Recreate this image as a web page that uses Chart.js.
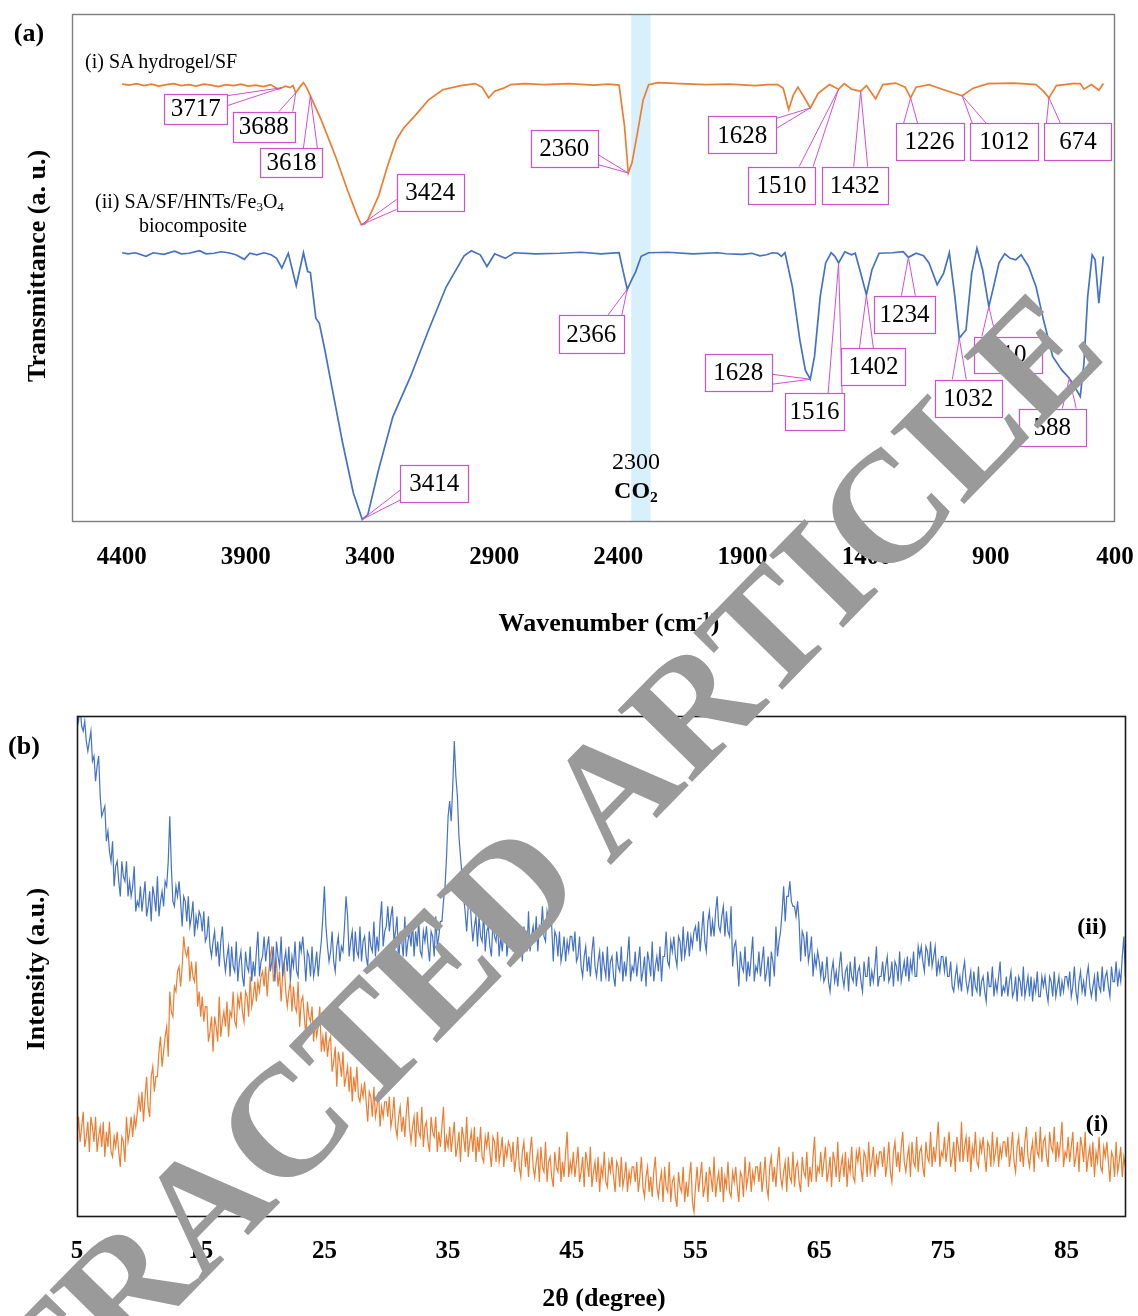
<!DOCTYPE html>
<html>
<head>
<meta charset="utf-8">
<script src="https://cdn.jsdelivr.net/npm/chart.js@4.4.1/dist/chart.umd.min.js"></script>
<style>
  html,body{margin:0;padding:0;background:#fff;}
  body{width:1138px;height:1316px;position:relative;overflow:hidden;font-family:'Liberation Serif','Times New Roman',serif;color:#000;}
  canvas{position:absolute;left:0;}
  .t{position:absolute;white-space:nowrap;line-height:1;}
  .c{transform:translate(-50%,-50%);}
  .l{transform:translateY(-50%);}
  .b{font-weight:bold;}
  .rot{transform:translate(-50%,-50%) rotate(-90deg);}
  sub{font-size:0.65em;vertical-align:-0.25em;line-height:0;}
  sup{font-size:0.65em;vertical-align:0.45em;line-height:0;}
  #wm{position:absolute;left:464px;top:939px;transform:translate(-50%,-50%) rotate(-45.6deg);font-size:158px;font-weight:bold;line-height:1;color:#9a9a9a;white-space:nowrap;pointer-events:none;font-family:'Liberation Serif','Times New Roman',serif;}
</style>
</head>
<body>
<canvas id="ftir" width="1138" height="660" style="top:0;width:1138px;height:660px"></canvas>
<canvas id="xrd" width="1138" height="636" style="top:680px;width:1138px;height:636px"></canvas>

<div class="t c b" style="left:29px;top:33px;font-size:26px">(a)</div>
<div class="t l" style="left:85px;top:61px;font-size:20px">(i) SA hydrogel/SF</div>
<div class="t l" style="left:95px;top:201px;font-size:20px">(ii) SA/SF/HNTs/Fe<sub>3</sub>O<sub>4</sub></div>
<div class="t l" style="left:139px;top:225px;font-size:20px">biocomposite</div>
<div class="t c" style="left:636px;top:461px;font-size:24px">2300</div>
<div class="t c b" style="left:636px;top:490px;font-size:24px">CO<sub>2</sub></div>
<div class="t rot b" style="left:37px;top:266px;font-size:26px">Transmittance (a. u.)</div>
<div class="t c b" style="left:609px;top:623px;font-size:26px">Wavenumber (cm<sup>-1</sup>)</div>

<div class="t c b" style="left:24px;top:746px;font-size:26px">(b)</div>
<div class="t rot b" style="left:36px;top:969px;font-size:26px">Intensity (a.u.)</div>
<div class="t c b" style="left:604px;top:1298px;font-size:26px">2θ (degree)</div>
<div class="t c b" style="left:1092px;top:926px;font-size:24px">(ii)</div>
<div class="t c b" style="left:1097px;top:1123px;font-size:24px">(i)</div>

<div id="wm">RETRACTED ARTICLE</div>

<script>
// ---------------- DATA ----------------
// FTIR (a): [wavenumber cm-1, transmittance a.u.]
const ftirSA_SF = [
 [4398,86.2],[4370,86.0],[4340,86.3],[4310,85.9],[4280,86.2],[4250,85.8],[4220,86.1],[4190,86.3],[4160,85.9],[4130,86.1],
 [4100,85.8],[4070,86.2],[4040,86.0],[4010,85.7],[3980,86.1],[3950,85.9],[3920,86.2],[3890,85.8],[3860,86.0],[3830,85.7],
 [3800,86.1],[3769,85.2],[3755,85.5],[3740,85.8],[3723,85.5],[3710,85.9],[3699,84.5],[3680,85.8],[3668,86.5],[3655,85.5],
 [3640,83.9],[3597,79.2],[3539,72.0],[3489,65.1],[3453,60.5],[3435,58.5],[3420,58.7],[3409,59.5],[3366,64.1],[3330,70.0],
 [3294,75.2],[3265,77.5],[3215,80.2],[3164,83.1],[3107,85.1],[3035,85.9],[2977,86.3],[2949,85.6],[2922,83.5],[2898,84.8],
 [2862,85.4],[2833,86.1],[2776,86.3],[2700,86.1],[2600,86.3],[2500,86.0],[2440,86.2],[2397,86.0],[2375,77.9],[2360,68.7],
 [2345,70.7],[2323,76.6],[2300,83.1],[2278,86.1],[2241,86.5],[2150,86.3],[2050,86.1],[1950,86.2],[1850,85.9],[1800,86.1],
 [1758,86.1],[1736,85.4],[1714,81.2],[1695,84.1],[1677,85.6],[1654,83.8],[1627,81.5],[1595,84.4],[1550,86.1],[1513,85.2],
 [1490,86.3],[1461,85.2],[1424,84.8],[1401,85.9],[1364,83.3],[1335,86.1],[1283,86.4],[1245,85.6],[1223,83.5],[1201,85.6],
 [1149,86.1],[1090,85.1],[1015,83.9],[971,85.4],[911,86.3],[807,86.4],[718,86.1],[688,84.8],[666,83.5],[636,85.9],
 [570,86.3],[540,86.3],[525,85.2],[495,86.1],[465,85.0],[447,86.3]
];
const ftirComposite = [
 [4398,53.0],[4374,52.8],[4345,53.0],[4302,52.3],[4273,53.0],[4230,52.7],[4187,53.3],[4160,52.8],[4129,52.9],[4086,53.4],
 [4060,52.8],[4028,52.9],[4000,53.2],[3971,53.0],[3940,52.6],[3906,51.7],[3884,52.9],[3856,52.6],[3827,53.0],[3798,52.6],
 [3776,51.9],[3755,50.0],[3729,52.9],[3697,46.5],[3668,53.0],[3651,49.3],[3640,49.1],[3618,40.1],[3604,39.1],[3582,33.9],
 [3554,26.7],[3510,15.5],[3467,5.7],[3431,0.5],[3409,1.4],[3366,10.2],[3308,20.7],[3237,28.6],[3164,37.8],[3093,46.3],
 [3021,52.4],[2992,53.4],[2956,52.6],[2929,50.3],[2898,52.8],[2855,51.9],[2819,53.0],[2733,52.8],[2635,52.9],[2550,53.1],
 [2470,52.8],[2397,53.0],[2379,49.0],[2364,45.8],[2345,47.8],[2330,49.3],[2308,52.3],[2278,53.0],[2200,53.1],[2100,52.8],
 [2000,53.0],[1966,52.8],[1900,52.7],[1862,52.9],[1830,52.4],[1803,52.6],[1780,53.0],[1758,52.9],[1743,52.3],[1729,53.0],
 [1699,46.3],[1669,35.8],[1647,29.9],[1627,28.1],[1610,32.6],[1587,44.4],[1565,51.0],[1543,53.0],[1528,52.3],[1513,51.0],
 [1488,53.2],[1461,52.6],[1446,52.9],[1424,49.0],[1401,44.7],[1379,49.6],[1350,52.9],[1297,53.0],[1253,53.2],[1232,52.1],
 [1201,52.9],[1171,52.4],[1149,51.0],[1116,46.7],[1090,49.0],[1067,53.0],[1045,44.4],[1027,36.2],[1000,37.8],[977,49.0],
 [956,53.9],[933,49.6],[908,42.4],[889,46.3],[867,51.0],[844,52.8],[822,51.9],[800,51.6],[778,52.6],[748,50.3],
 [718,46.3],[688,39.8],[651,32.6],[614,29.9],[584,28.3],[562,26.6],[540,24.7],[525,31.3],[510,44.4],[492,52.6],
 [480,51.6],[465,43.1],[447,52.3]
];
const ftirTickValues = [4400,3900,3400,2900,2400,1900,1400,900,400];
const co2Band = [2270, 2348];
// peak labels: [text, series (0 = SA hydrogel/SF, 1 = composite), wavenumber, transmittance]
const ftirPeakLabels = [
 ['3717',0,3755,85.5],['3688',0,3699,84.5],['3618',0,3640,83.9],['3424',0,3435,58.5],['2360',0,2360,68.7],
 ['1628',0,1627,81.5],['1510',0,1513,85.2],['1432',0,1424,84.8],['1226',0,1223,83.5],['1012',0,1015,83.9],['674',0,666,83.5],
 ['3414',1,3431,0.5],['2366',1,2364,45.8],['1628',1,1627,28.1],['1516',1,1513,51.0],['1402',1,1401,44.7],
 ['1234',1,1232,52.1],['1032',1,1027,36.2],['910',1,908,42.4],['588',1,584,28.3]
];

// XRD (b): intensity (a.u.) every 0.125 deg starting at 5 deg (one row = 5 deg)
const xrdStart = 5, xrdStep = 0.125;
const xrdComposite = [
 101,99,102,98,97,99,95,93,95,97,91,92,87,90,92,84,80,81,82,75,77,73,71,75,66,70,71,67,64,71,68,67,71,64,67,64,66,70,61,63,
 62,66,61,64,67,60,62,65,59,66,64,61,68,60,63,65,62,67,66,71,80,70,63,62,66,64,67,63,58,64,63,59,64,58,60,63,56,60,58,61,
 60,57,61,55,56,60,54,52,55,57,52,55,50,55,58,52,49,52,54,48,54,50,49,55,47,51,53,48,46,53,50,49,54,47,51,48,53,57,48,51,
 52,56,51,54,56,49,51,54,47,55,52,50,56,48,51,53,49,54,47,52,50,55,49,48,55,53,56,52,47,53,52,48,54,48,50,53,48,52,55,60,
 66,58,54,51,53,57,51,49,54,56,51,54,53,58,64,60,52,55,57,51,57,53,52,58,51,55,56,52,50,57,54,53,59,52,56,53,59,63,54,57,
 58,62,57,60,62,55,57,60,50,57,55,52,60,52,55,57,54,59,52,57,54,59,53,52,57,55,58,54,51,57,56,52,60,54,56,59,59,63,66,72,
 80,83,79,86,95,88,84,76,72,68,64,61,57,62,65,59,55,58,60,54,60,56,55,61,53,57,58,54,52,59,56,55,59,52,56,53,57,61,52,55,
 54,58,53,56,59,52,54,57,51,58,56,53,61,53,56,58,55,60,53,58,57,62,56,55,61,59,63,58,51,57,56,52,57,51,53,56,51,55,53,56,
 56,53,57,51,52,56,50,48,52,54,49,52,48,53,56,50,48,51,53,47,53,50,48,54,47,51,52,48,46,53,50,49,54,47,51,48,52,56,47,50,
 49,53,48,51,54,47,49,52,46,53,51,48,55,47,50,52,49,54,47,52,52,57,51,50,55,53,56,52,50,56,55,51,58,52,54,57,52,56,54,57,
 58,55,59,53,57,61,55,53,59,61,56,59,56,61,64,58,57,60,62,56,61,57,56,62,50,54,55,51,46,53,50,49,54,47,51,48,52,56,47,50,
 49,53,48,51,54,47,49,52,46,53,51,48,58,52,55,57,61,66,59,64,64,67,63,62,62,60,63,59,51,57,56,52,57,51,53,56,48,52,50,53,
 51,48,51,47,48,52,47,45,49,51,47,49,46,50,53,48,46,49,50,45,51,48,47,52,46,49,50,47,45,51,48,48,52,46,49,47,50,54,46,48,
 48,51,47,50,52,47,48,51,46,51,50,47,53,47,49,51,48,52,47,51,49,53,48,48,54,52,54,51,49,54,53,50,55,50,52,54,48,51,49,52,
 52,49,52,48,48,51,46,45,48,50,46,48,45,49,51,47,45,47,49,44,49,46,45,50,44,47,48,45,43,49,46,46,50,44,47,45,48,51,44,46,
 45,48,44,47,49,44,45,48,43,48,47,44,50,44,46,48,44,48,43,47,45,49,44,44,48,46,48,45,43,48,47,44,49,44,46,48,44,47,45,48,
 48,46,49,44,46,50,45,43,47,49,45,47,44,48,50,46,44,46,48,43,49,46,45,50,45,48,49,46,44,50,47,47,51,46,49,47,52,56,48,51
];
const xrdSA_SF = [
 16,20,15,18,21,14,16,19,13,20,18,15,20,13,16,18,14,19,12,17,14,19,13,12,16,14,17,13,10,16,15,11,20,15,17,20,16,20,18,21,
 24,21,25,19,24,28,22,20,28,30,25,28,28,33,36,30,33,36,38,32,45,41,40,46,45,49,50,46,50,56,53,52,54,47,51,48,47,51,42,45,
 40,44,39,42,42,35,37,40,33,40,38,35,44,36,39,41,38,43,36,41,40,45,39,38,44,42,45,41,39,45,44,40,48,42,44,47,43,47,45,48,
 49,46,50,44,49,52,54,47,49,51,46,49,43,48,51,45,42,45,47,41,46,42,41,47,38,43,44,40,36,43,40,39,42,35,39,36,38,42,33,36,
 33,37,32,35,36,29,31,34,26,33,31,28,33,26,28,30,25,30,23,28,25,30,24,23,26,24,27,23,19,25,24,20,26,20,22,25,18,22,20,23,
 23,20,24,18,20,24,18,16,20,22,17,20,16,21,24,18,15,18,20,14,21,17,16,22,14,18,19,15,13,20,17,16,20,13,17,14,18,22,13,16,
 14,18,13,16,19,12,14,17,11,18,16,13,20,12,15,17,13,18,11,16,13,18,12,11,16,14,17,13,10,16,15,11,17,11,13,16,10,14,12,15,
 14,11,15,9,12,16,10,8,13,15,10,13,8,13,16,10,8,11,13,7,14,10,9,15,7,11,12,8,6,13,10,9,14,7,11,8,13,17,8,11,
 9,13,8,11,14,7,9,12,6,13,11,8,14,6,9,11,7,12,5,10,8,13,7,6,11,9,12,8,5,11,10,6,12,6,8,11,5,9,7,10,
 10,7,11,5,8,12,6,4,8,10,5,8,4,9,12,6,4,7,9,3,10,6,5,11,3,7,8,4,2,9,6,5,10,3,7,4,8,11,3,1,
 6,10,5,8,11,4,6,9,3,10,8,5,12,4,7,9,5,10,3,8,6,11,5,4,9,7,10,6,3,9,8,4,12,6,8,11,5,9,7,10,
 10,7,11,5,8,12,6,4,10,12,7,10,6,11,14,8,6,9,11,5,12,8,7,13,6,10,11,7,5,12,9,8,13,6,10,7,12,16,7,10,
 9,13,8,11,14,7,9,12,6,13,11,8,15,7,10,12,8,13,6,11,9,14,8,7,13,11,14,10,7,13,12,8,15,9,11,14,8,12,10,13,
 13,10,14,8,11,15,9,7,13,15,10,13,9,14,17,11,9,12,14,8,15,11,10,16,9,13,14,10,8,15,12,11,17,10,14,11,15,19,10,13,
 12,16,11,14,17,10,12,15,9,16,14,11,19,11,14,16,11,16,9,14,12,17,11,10,15,13,16,12,9,15,14,10,17,11,13,16,10,14,12,15,
 15,12,16,10,13,17,11,9,14,16,11,14,10,15,18,12,10,13,15,9,17,13,12,18,11,15,16,12,10,17,14,13,18,11,15,12,15,19,10,13,
 12,16,11,14,17,10,12,15,9,16,14,11,17,9,12,14,10,15,8,13,11,16,10,9,14,12,15,11,7,13,12,8,15,9,11,14,8,12,10,13
];
const xrdTickValues = [5,15,25,35,45,55,65,75,85];

// ---------------- LAYOUT / STYLE ----------------
const FONT = "'Liberation Serif','Times New Roman',serif";
const ORANGE = '#ED7D31', BLUE = '#4472C4', MAGENTA = '#d24fd2';
// callout box placement relative to the labelled point: [dx, dy, width, height] in px
const calloutBoxes = [
 [-86,21,63,30],[-32,34,62,30],[-19,67,62,29],[69,-32,67,37],[-64,-25,67,37],
 [-68,27,68,37],[-57,96,67,37],[-6,94,66,37],[19,44,68,37],[42,46,68,37],[29,44,67,37],
 [72,-36,68,37],[-36,45,65,38],[-72,-7,67,37],[-24,149,59,37],[7,72,64,37],
 [-4,57,61,37],[9,60,67,37],[19,48,68,36],[-17,49,67,37]
];

const clamp = (v,a,b)=>Math.max(a,Math.min(b,v));

function framePlugin(color, width){
  return { id:'frame'+color.replace('#',''), afterDatasetsDraw(chart){
    const a = chart.chartArea, ctx = chart.ctx;
    ctx.save(); ctx.strokeStyle = color; ctx.lineWidth = width;
    ctx.strokeRect(a.left+0.5, a.top+0.5, a.right-a.left-1, a.bottom-a.top-1);
    ctx.restore();
  }};
}

const bandPlugin = { id:'co2band', beforeDatasetsDraw(chart){
  const {ctx, chartArea:a, scales:{x}} = chart;
  const x1 = x.getPixelForValue(co2Band[1]), x2 = x.getPixelForValue(co2Band[0]);
  ctx.save(); ctx.fillStyle = '#d8f0fb';
  ctx.fillRect(Math.min(x1,x2), a.top, Math.abs(x2-x1), a.bottom-a.top);
  ctx.restore();
}};

const calloutPlugin = { id:'callouts', afterDatasetsDraw(chart){
  const {ctx, scales:{x,y}} = chart;
  ctx.save();
  ctx.font = "25px " + FONT;
  ctx.textAlign = 'center'; ctx.textBaseline = 'middle';
  ftirPeakLabels.forEach((p,i)=>{
    const [dx,dy,w,h] = calloutBoxes[i];
    const tx = x.getPixelForValue(p[2]), ty = y.getPixelForValue(p[3]);
    const cx = tx+dx, cy = ty+dy;
    const L = cx-w/2, R = cx+w/2, T = cy-h/2, B = cy+h/2;
    const nx = (tx-cx)/(w/2), ny = (ty-cy)/(h/2);
    let b1, b2;
    if (Math.abs(ny) >= Math.abs(nx)) {
      const ey = ny<0 ? T : B; const m = clamp(tx, L+9, R-9);
      b1 = [m-7, ey]; b2 = [m+7, ey];
    } else {
      const ex = nx<0 ? L : R; const m = clamp(ty, T+7, B-7);
      b1 = [ex, m-5]; b2 = [ex, m+5];
    }
    ctx.strokeStyle = MAGENTA; ctx.lineWidth = 1;
    ctx.beginPath(); ctx.moveTo(b1[0],b1[1]); ctx.lineTo(tx,ty); ctx.lineTo(b2[0],b2[1]); ctx.stroke();
    ctx.fillStyle = '#fff'; ctx.fillRect(L,T,w,h);
    ctx.lineWidth = 1.2; ctx.strokeRect(Math.round(L)+0.5, Math.round(T)+0.5, Math.round(w), Math.round(h));
    ctx.fillStyle = '#000'; ctx.fillText(p[0], cx, cy+1);
  });
  ctx.restore();
}};

const toPts = arr => arr.map(([xv,yv])=>({x:xv, y:yv}));
const xrdPts = vals => vals.map((v,i)=>({x: xrdStart + i*xrdStep, y: v}));

const tickFont = {family: FONT, size: 25, weight: 'bold'};

new Chart(document.getElementById('ftir'), {
  type: 'line',
  data: { datasets: [
    { label:'(i) SA hydrogel/SF', data: toPts(ftirSA_SF), borderColor: ORANGE, borderWidth: 1.7, pointRadius: 0, tension: 0, fill:false },
    { label:'(ii) SA/SF/HNTs/Fe3O4 biocomposite', data: toPts(ftirComposite), borderColor: BLUE, borderWidth: 1.7, pointRadius: 0, tension: 0, fill:false }
  ]},
  options: {
    responsive: false, animation: false, devicePixelRatio: 1,
    layout: { padding: { left: 72, top: 14, right: 23, bottom: 0 } },
    plugins: { legend: { display: false }, tooltip: { enabled: false } },
    scales: {
      x: { type: 'linear', reverse: true, min: 400, max: 4600,
           grid: { display: false, drawTicks: false }, border: { display: false },
           ticks: { font: tickFont, color: '#000', padding: 21, maxRotation: 0, autoSkip: false, callback: v => String(v) },
           afterBuildTicks: s => { s.ticks = ftirTickValues.map(v => ({ value: v })); },
           afterFit: s => { s.height = 138; s.paddingLeft = 0; s.paddingRight = 0; } },
      y: { display: false, min: 0, max: 100 }
    }
  },
  plugins: [bandPlugin, framePlugin('#7f7f7f', 1.4), calloutPlugin]
});

new Chart(document.getElementById('xrd'), {
  type: 'line',
  data: { datasets: [
    { label:'(ii)', data: xrdPts(xrdComposite), borderColor: BLUE, borderWidth: 1.2, pointRadius: 0, tension: 0, fill:false },
    { label:'(i)', data: xrdPts(xrdSA_SF), borderColor: ORANGE, borderWidth: 1.2, pointRadius: 0, tension: 0, fill:false }
  ]},
  options: {
    responsive: false, animation: false, devicePixelRatio: 1,
    layout: { padding: { left: 77, top: 36, right: 12, bottom: 0 } },
    plugins: { legend: { display: false }, tooltip: { enabled: false } },
    scales: {
      x: { type: 'linear', min: 5, max: 89.8,
           grid: { display: false, drawTicks: false }, border: { display: false },
           ticks: { font: tickFont, color: '#000', padding: 20, maxRotation: 0, autoSkip: false, callback: v => String(v) },
           afterBuildTicks: s => { s.ticks = xrdTickValues.map(v => ({ value: v })); },
           afterFit: s => { s.height = 99; s.paddingLeft = 0; s.paddingRight = 0; } },
      y: { display: false, min: 0, max: 100 }
    }
  },
  plugins: [framePlugin('#1a1a1a', 1.6)]
});
</script>
</body>
</html>
